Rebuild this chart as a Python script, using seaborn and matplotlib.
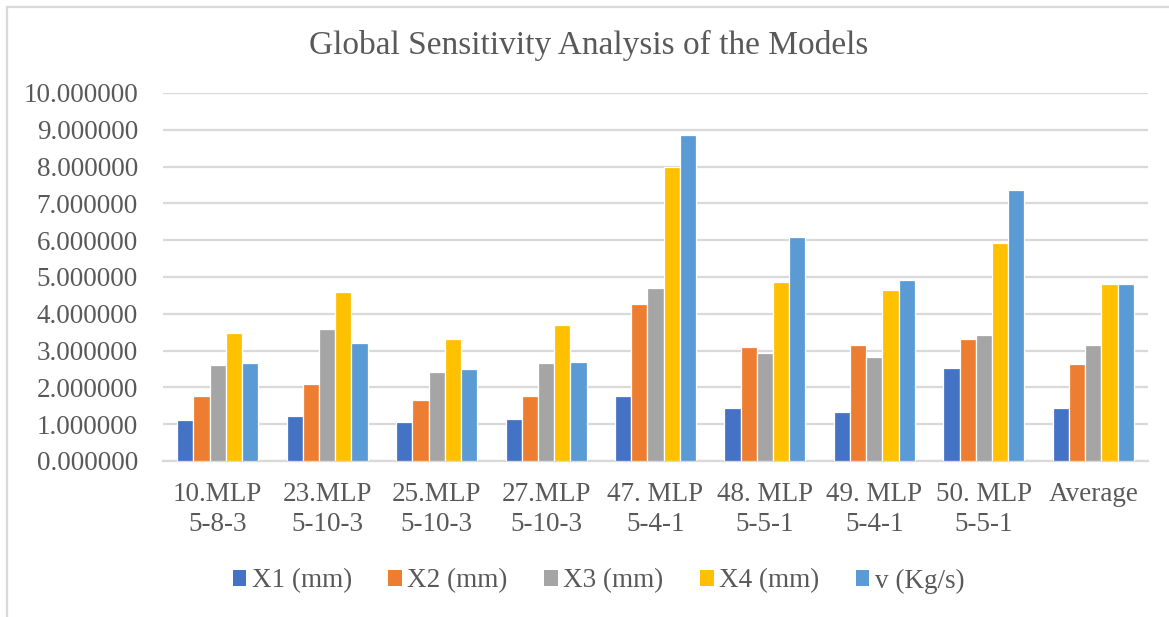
import matplotlib
matplotlib.use("Agg")
import matplotlib.pyplot as plt
from matplotlib.lines import Line2D
from matplotlib.patches import Patch
import seaborn as sns
import pandas as pd

# Models (two-line labels) and the sensitivity of each input
models = ["10.MLP\n5-8-3", "23.MLP\n5-10-3", "25.MLP\n5-10-3", "27.MLP\n5-10-3",
          "47. MLP\n5-4-1", "48. MLP\n5-5-1", "49. MLP\n5-4-1", "50. MLP\n5-5-1",
          "Average"]
series = ["X1 (mm)", "X2 (mm)", "X3 (mm)", "X4 (mm)", "v (Kg/s)"]
x1 = [1.12, 1.23, 1.07, 1.13, 1.77, 1.43, 1.33, 2.52, 1.45]
x2 = [1.77, 2.09, 1.66, 1.77, 4.27, 3.10, 3.15, 3.31, 2.64]
x3 = [2.61, 3.59, 2.41, 2.67, 4.70, 2.94, 2.83, 3.42, 3.15]
x4 = [3.47, 4.59, 3.31, 3.70, 8.00, 4.86, 4.65, 5.93, 4.81]
v = [2.67, 3.20, 2.51, 2.68, 8.85, 6.09, 4.91, 7.37, 4.81]
ytick_values = [0, 1, 2, 3, 4, 5, 6, 7, 8, 9, 10]

colors = ["#4472C4", "#ED7D31", "#A5A5A5", "#FFC000", "#5B9BD5"]
text_color = "#595959"
grid_color = "#D9D9D9"

rows = []
for name, vals in zip(series, [x1, x2, x3, x4, v]):
    for m, val in zip(models, vals):
        rows.append({"Model": m, "Variable": name, "Value": val})
df = pd.DataFrame(rows)

sns.set_theme(style="white")
plt.rcParams["font.family"] = ["Liberation Serif", "DejaVu Serif"]

fig = plt.figure(figsize=(11.69, 6.17), dpi=100)
ax = fig.add_axes([163 / 1169, 1 - 461 / 617, (1148 - 163) / 1169, (461 - 93) / 617])

sns.barplot(data=df, x="Model", y="Value", hue="Variable", order=models,
            hue_order=series, palette=colors, width=0.74, saturation=1,
            edgecolor="white", linewidth=0.9, ax=ax, legend=False, zorder=3)

ax.set_ylim(0, 10)
ax.set_xlim(-0.5, len(models) - 0.5)
ax.set_yticks(ytick_values)
ax.set_yticklabels([f"{t:.6f}" for t in ytick_values])
ax.yaxis.grid(True, color=grid_color, linewidth=1.6, zorder=0)
ax.set_axisbelow(True)
for side in ["top", "right", "left"]:
    ax.spines[side].set_visible(False)
ax.spines["bottom"].set_color(grid_color)
ax.spines["bottom"].set_linewidth(1.6)
ax.tick_params(axis="both", length=0, colors=text_color, labelsize=19.5)
ax.tick_params(axis="y", pad=18)
ax.tick_params(axis="x", pad=15)
for lbl in ax.get_xticklabels():
    lbl.set_linespacing(1.28)
ax.set_xlabel("")
ax.set_ylabel("")

fig.text(0.504, 1 - 45 / 617, "Global Sensitivity Analysis of the Models",
         ha="center", va="center", fontsize=24, color=text_color)

handles = [Patch(facecolor=c, edgecolor="none") for c in colors]
fig.legend(handles, series, loc="center", bbox_to_anchor=(0.512, 1 - 581 / 617),
           ncol=5, frameon=False, fontsize=19.5, labelcolor=text_color,
           handlelength=0.5, handleheight=0.5, handletextpad=0.2,
           columnspacing=1.35)

# light chart-area border
fig.add_artist(Line2D([6.5 / 1169, 6.5 / 1169], [0, 1 - 6.5 / 617],
                      color="#D9D9D9", linewidth=1.6, transform=fig.transFigure))
fig.add_artist(Line2D([6.5 / 1169, 1], [1 - 6.5 / 617, 1 - 6.5 / 617],
                      color="#D9D9D9", linewidth=1.6, transform=fig.transFigure))

fig.savefig("out.png", dpi=100, facecolor="white")
